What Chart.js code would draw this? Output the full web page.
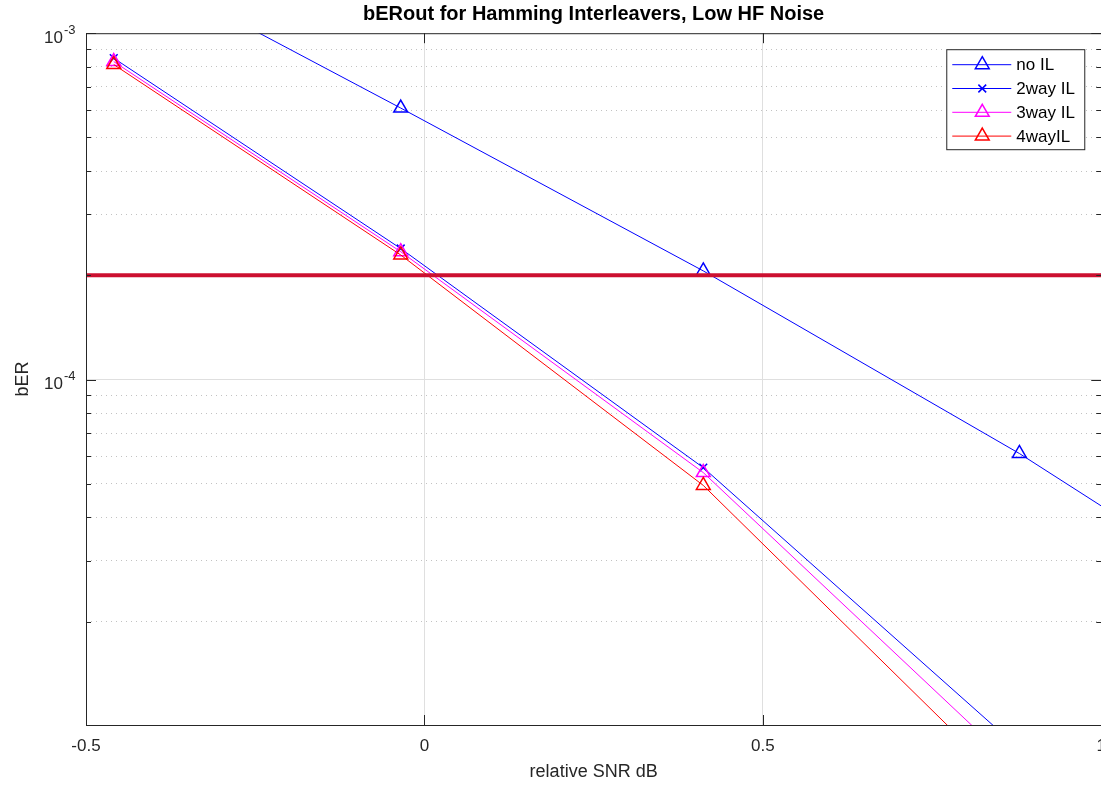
<!DOCTYPE html>
<html>
<head>
<meta charset="utf-8">
<title>bERout for Hamming Interleavers</title>
<script src="https://cdn.jsdelivr.net/npm/chart.js@4.4.0/dist/chart.umd.min.js"></script>
<style>
html, body { margin: 0; padding: 0; overflow: hidden; background: #fff; }
canvas { display: block; }
</style>
</head>
<body>
<canvas id="berChart" width="1117" height="785"></canvas>
<script>
// values
var snrDb = [-0.459, -0.035, 0.412, 0.879, 1.367];
var berNoIL = [1.67e-3, 6.08e-4, 2.06e-4, 6.12e-5, 1.50e-5];
var ber2way = [8.47e-4, 2.39e-4, 5.57e-5, 8.6e-6, 9.1e-7];
var ber3way = [8.28e-4, 2.34e-4, 5.39e-5, 7.46e-6, 6.6e-7];
var ber4way = [8.12e-4, 2.29e-4, 4.95e-5, 6.28e-6, 5.0e-7];

// target level line
var targetSnr = [-0.5, 1];
var targetBer = [2e-4, 2e-4];

var seriesNames = ['no IL', '2way IL', '3way IL', '4wayIL'];

// axes
var xTicks = [-0.5, 0, 0.5, 1];
var xTickLabels = ['-0.5', '0', '0.5', '1'];
var yMajorTicks = [1e-4, 1e-3];
var yTickBase = ['10', '10'];
var yTickExp = ['-4', '-3'];
var yMinorTicks = [2e-5, 3e-5, 4e-5, 5e-5, 6e-5, 7e-5, 8e-5, 9e-5,
                   2e-4, 3e-4, 4e-4, 5e-4, 6e-4, 7e-4, 8e-4, 9e-4];
var yMin = 1.007e-5;
var yMax = 1e-3;

var ink = 'rgb(38,38,38)';
var clear = 'rgba(0,0,0,0)';
var fontFamily = "'Liberation Sans', Arial, Helvetica, sans-serif";

Chart.defaults.font.family = fontFamily;
Chart.defaults.color = ink;

function toPoints(xs, ys) {
    return xs.map(function (x, i) { return { x: x, y: ys[i] }; });
}

function series(label, ys, color, style, radius, order) {
    return {
        label: label,
        data: toPoints(snrDb, ys),
        borderColor: color,
        backgroundColor: clear,
        borderWidth: 1,
        pointStyle: style,
        pointRadius: radius,
        pointHoverRadius: radius,
        pointBorderWidth: 1.5,
        pointBorderColor: color,
        pointBackgroundColor: clear,
        tension: 0,
        order: order
    };
}

// box, inward ticks and tick exponents (MATLAB style)
var axesBox = {
    id: 'axesBox',
    afterDraw: function (chart) {
        var ctx = chart.ctx, a = chart.chartArea;
        var xs = chart.scales.x, ys = chart.scales.y, ym = chart.scales.yMinor;
        ctx.save();
        ctx.strokeStyle = ink;
        ctx.lineWidth = 1;
        ctx.strokeRect(a.left + 0.5, a.top + 0.5, a.right - a.left, a.bottom - a.top);
        ctx.beginPath();
        ys.ticks.forEach(function (t) {
            var y = Math.round(ys.getPixelForValue(t.value)) + 0.5;
            ctx.moveTo(a.left, y); ctx.lineTo(a.left + 10, y);
            ctx.moveTo(a.right, y); ctx.lineTo(a.right - 10, y);
        });
        ym.ticks.forEach(function (t) {
            var y = Math.round(ym.getPixelForValue(t.value)) + 0.5;
            ctx.moveTo(a.left, y); ctx.lineTo(a.left + 5, y);
            ctx.moveTo(a.right, y); ctx.lineTo(a.right - 5, y);
        });
        xs.ticks.forEach(function (t) {
            var x = Math.round(xs.getPixelForValue(t.value)) + 0.5;
            ctx.moveTo(x, a.bottom); ctx.lineTo(x, a.bottom - 10);
            ctx.moveTo(x, a.top); ctx.lineTo(x, a.top + 10);
        });
        ctx.stroke();
        // exponents after the "10" tick labels
        ctx.fillStyle = ink;
        ctx.font = '13px ' + fontFamily;
        ctx.textAlign = 'left';
        ctx.textBaseline = 'middle';
        ys.ticks.forEach(function (t, i) {
            var y = ys.getPixelForValue(t.value);
            ctx.fillText(yTickExp[i], a.left - 22, y - 3);
        });
        ctx.restore();
    }
};

// boxed legend in the upper right corner, line + marker per entry
var boxLegend = {
    id: 'boxLegend',
    afterDraw: function (chart) {
        var ctx = chart.ctx, a = chart.chartArea;
        var left = a.right - 155, top = a.top + 16, w = 138, h = 100;
        ctx.save();
        ctx.fillStyle = '#fff';
        ctx.fillRect(left, top, w, h);
        ctx.strokeStyle = ink;
        ctx.lineWidth = 1;
        ctx.strokeRect(left + 0.5, top + 0.5, w, h);
        ctx.font = '17px ' + fontFamily;
        ctx.textBaseline = 'middle';
        seriesNames.forEach(function (name, i) {
            var ds = chart.data.datasets[i];
            var y = top + 15.5 + i * 23.8;
            ctx.strokeStyle = ds.borderColor;
            ctx.lineWidth = 1;
            ctx.beginPath();
            ctx.moveTo(left + 6, y); ctx.lineTo(left + 65, y);
            ctx.stroke();
            ctx.fillStyle = clear;
            ctx.lineWidth = ds.pointBorderWidth;
            Chart.helpers.drawPoint(ctx, {
                pointStyle: ds.pointStyle, radius: ds.pointRadius,
                rotation: 0, borderWidth: ds.pointBorderWidth
            }, left + 36, y);
            ctx.fillStyle = '#000';
            ctx.fillText(name, left + 70, y + 1);
        });
        ctx.restore();
    }
};

new Chart(document.getElementById('berChart'), {
    type: 'line',
    data: {
        datasets: [
            series(seriesNames[0], berNoIL, 'rgb(0,0,255)', 'triangle', 8, 4),
            series(seriesNames[1], ber2way, 'rgb(0,0,255)', 'crossRot', 5.5, 3),
            series(seriesNames[2], ber3way, 'rgb(255,0,255)', 'triangle', 8, 2),
            series(seriesNames[3], ber4way, 'rgb(255,0,0)', 'triangle', 8, 1),
            {
                label: 'target',
                data: toPoints(targetSnr, targetBer),
                borderColor: 'rgb(204,16,48)',
                borderWidth: 4,
                pointRadius: 0,
                order: 0
            }
        ]
    },
    options: {
        responsive: false,
        animation: false,
        devicePixelRatio: 1,
        layout: { padding: { left: 0, right: 10, top: 0, bottom: 0 } },
        plugins: {
            legend: { display: false },
            tooltip: { enabled: false },
            title: {
                display: true,
                fullSize: false,
                text: 'bERout for Hamming Interleavers, Low HF Noise',
                color: '#000',
                font: { size: 20, weight: 'bold' },
                padding: { top: 1, bottom: 7 }
            }
        },
        scales: {
            x: {
                type: 'linear',
                min: -0.5,
                max: 1,
                afterBuildTicks: function (s) { s.ticks = xTicks.map(function (v) { return { value: v }; }); },
                afterFit: function (s) { s.height = 60; },
                ticks: {
                    callback: function (v, i) { return xTickLabels[i]; },
                    font: { size: 17 },
                    padding: 11,
                    maxRotation: 0,
                    autoSkip: false
                },
                grid: {
                    drawTicks: false,
                    lineWidth: 1,
                    color: function (c) {
                        return (c.tick && (c.tick.value === -0.5 || c.tick.value === 1)) ? clear : 'rgb(223,223,223)';
                    }
                },
                border: { display: false },
                title: {
                    display: true,
                    text: 'relative SNR dB',
                    font: { size: 18 },
                    padding: { top: 0, bottom: 2 }
                }
            },
            y: {
                type: 'logarithmic',
                position: 'left',
                min: yMin,
                max: yMax,
                afterBuildTicks: function (s) { s.ticks = yMajorTicks.map(function (v) { return { value: v }; }); },
                afterFit: function (s) { s.width = 86; },
                ticks: {
                    callback: function (v, i) { return yTickBase[i]; },
                    font: { size: 17 },
                    padding: 23,
                    labelOffset: 5
                },
                grid: {
                    drawTicks: false,
                    lineWidth: 1,
                    color: function (c) {
                        return (c.tick && c.tick.value === yMax) ? clear : 'rgb(223,223,223)';
                    }
                },
                border: { display: false },
                title: {
                    display: true,
                    text: 'bER',
                    font: { size: 18 },
                    padding: { top: 12, bottom: 0 }
                }
            },
            yMinor: {
                type: 'logarithmic',
                position: 'left',
                min: yMin,
                max: yMax,
                afterBuildTicks: function (s) { s.ticks = yMinorTicks.map(function (v) { return { value: v }; }); },
                afterFit: function (s) { s.width = 0; },
                ticks: { display: false },
                grid: { drawTicks: false, lineWidth: 1, color: 'rgba(0,0,0,0.24)' },
                border: { display: false, dash: [1, 4] }
            }
        }
    },
    plugins: [axesBox, boxLegend]
});
</script>
</body>
</html>
